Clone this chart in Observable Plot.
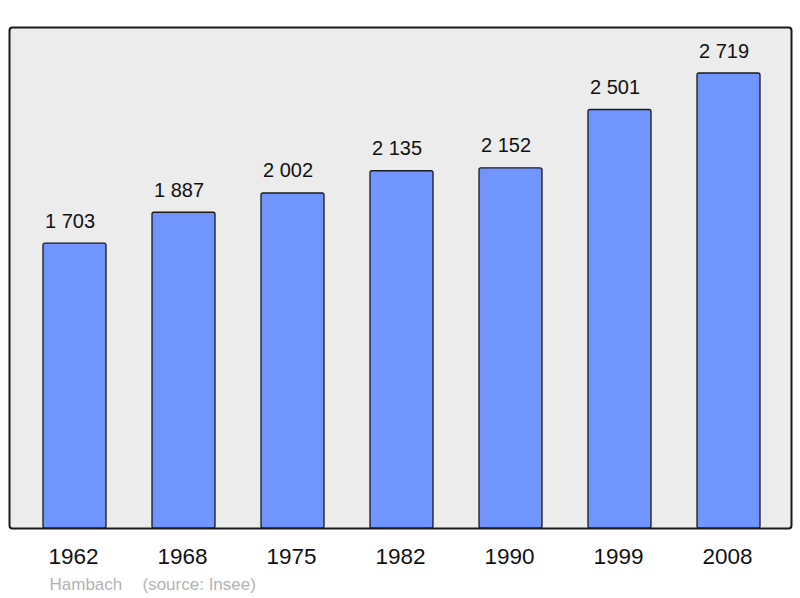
<!DOCTYPE html>
<html>
<head>
<meta charset="utf-8">
<script src="https://cdn.jsdelivr.net/npm/d3@7"></script>
<script src="https://cdn.jsdelivr.net/npm/@observablehq/plot@0.6"></script>
<style>
  html, body { margin: 0; padding: 0; background: #fff; }
</style>
</head>
<body>
<div id="chart"></div>
<script>
const years = ["1962", "1968", "1975", "1982", "1990", "1999", "2008"];
const population = [1703, 1887, 2002, 2135, 2152, 2501, 2719];
const valueLabels = ["1 703", "1 887", "2 002", "2 135", "2 152", "2 501", "2 719"];
const captionTexts = ["Hambach", "(source: Insee)"];
const captionOffsets = [40, 133];

const data = years.map((y, i) => ({year: y, pop: population[i], label: valueLabels[i]}));
const captions = captionTexts.map((t, i) => ({text: t, dx: captionOffsets[i]}));

const chart = Plot.plot({
  width: 800,
  height: 598,
  marginTop: 27,
  marginBottom: 70,
  marginLeft: 9,
  marginRight: 9,
  style: {fontFamily: "'Liberation Sans', Arial, sans-serif", background: "#fff", color: "#000"},
  x: {type: "band", domain: years, range: [18.25, 784.75], paddingInner: 0.425, paddingOuter: 0.2125, label: null},
  y: {domain: [0, 3000], range: [528, 26], axis: null},
  marks: [
    Plot.frame({fill: "#ececec", stroke: "#1a1a1a", strokeWidth: 2, rx: 3}),
    Plot.barY(data, {x: "year", y: "pop", fill: "#7095ff", stroke: "#1a1a1a", strokeWidth: 1.3, rx: 2}),
    Plot.text(data, {x: "year", y: "pop", text: "label", lineAnchor: "bottom", dx: -5, dy: -16, fontSize: 20, fill: "#111"}),
    Plot.axisX({tickSize: 0, tickPadding: 20, dx: -1.5, fontSize: 22.5, label: null, fill: "#111"}),
    ...captions.map(c => Plot.text([c], {text: "text", frameAnchor: "bottom-left", textAnchor: "start", lineAnchor: "top", dx: c.dx, dy: 49, fontSize: 17, fill: "#b3b3b3"}))
  ]
});
document.getElementById("chart").appendChild(chart);
</script>
</body>
</html>
